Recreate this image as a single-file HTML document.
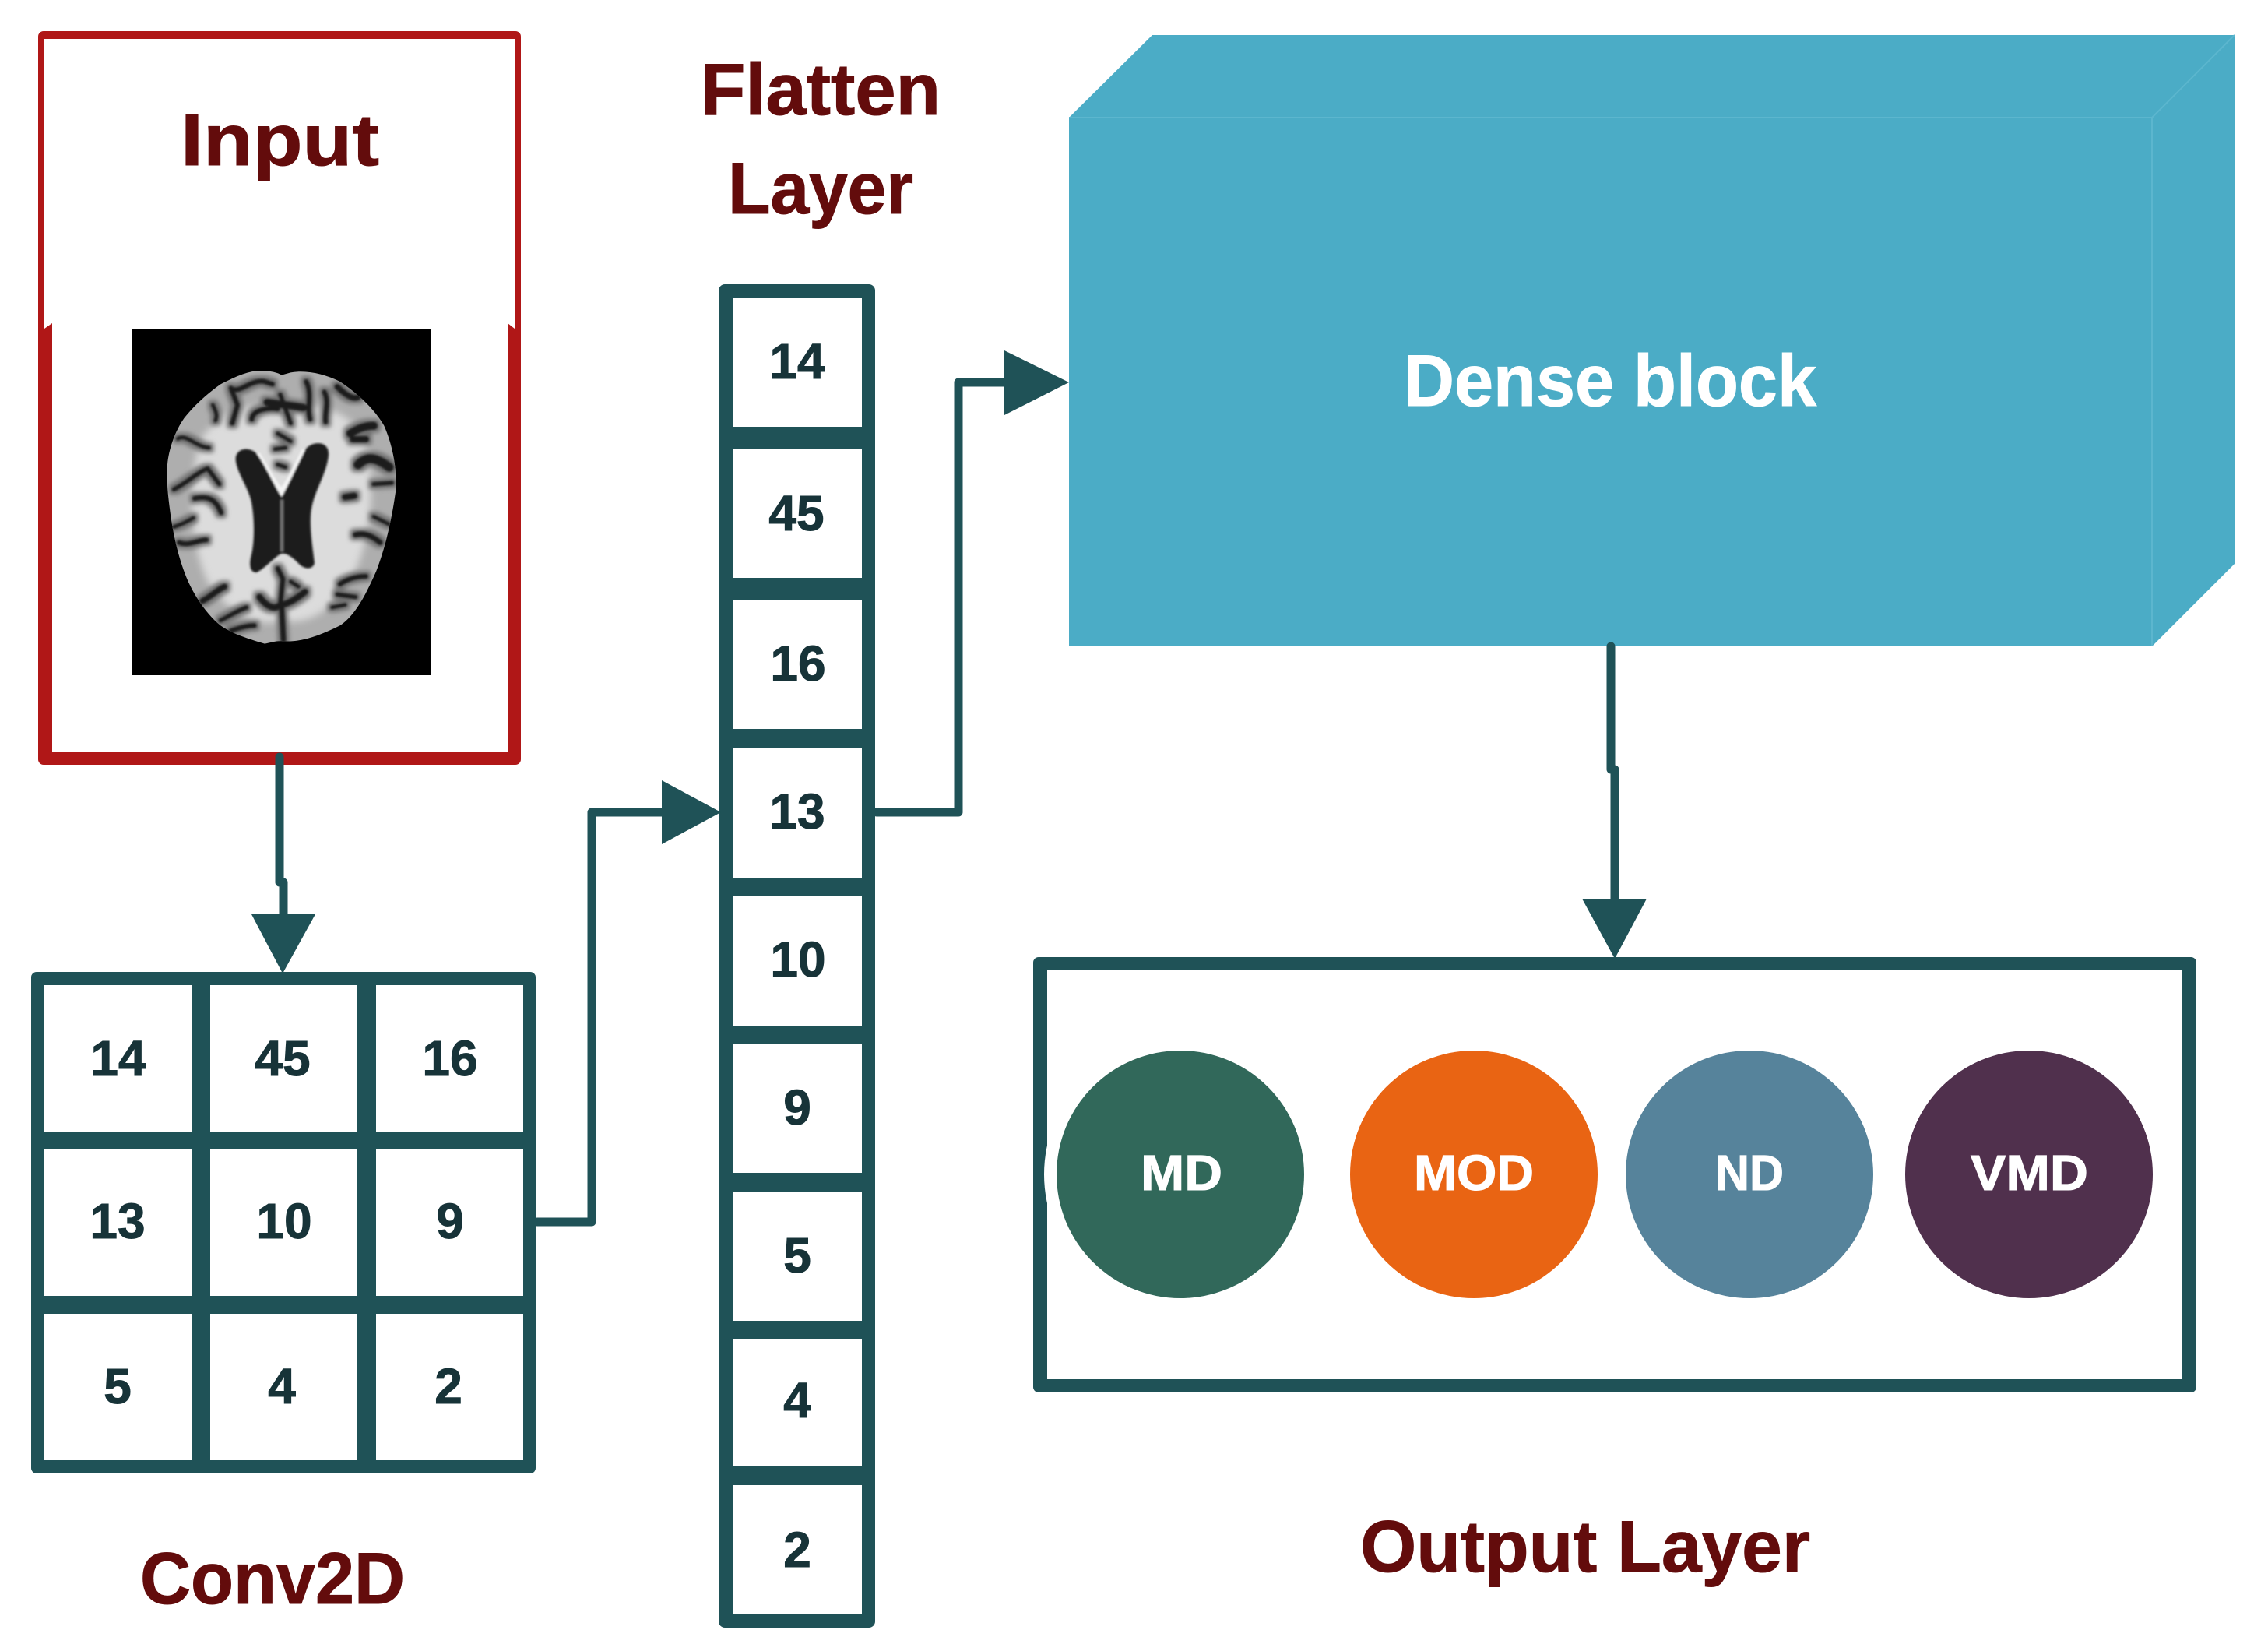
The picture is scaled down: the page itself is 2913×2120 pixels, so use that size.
<!DOCTYPE html>
<html>
<head>
<meta charset="utf-8">
<style>
html,body{margin:0;padding:0;background:#fff;}
svg{display:block;}
text{font-family:"Liberation Sans",sans-serif;font-weight:bold;}
.t{fill:#630c0c;font-size:94px;stroke:#630c0c;stroke-width:1;}
.n{fill:#173338;font-size:64px;text-anchor:middle;stroke:#173338;stroke-width:1;}
.w{fill:#fff;stroke:#fff;stroke-width:1;}
</style>
</head>
<body>
<svg xmlns="http://www.w3.org/2000/svg" width="2913" height="2120" viewBox="0 0 2913 2120">
<defs>
<filter id="b" x="-10%" y="-10%" width="120%" height="120%"><feGaussianBlur stdDeviation="4"/></filter>
<filter id="b3" x="-10%" y="-10%" width="120%" height="120%"><feMorphology operator="dilate" radius="12"/><feGaussianBlur stdDeviation="9"/></filter>
<filter id="b2" x="-10%" y="-10%" width="120%" height="120%"><feGaussianBlur stdDeviation="14"/></filter>
<clipPath id="bc"><path d="M605,215 C590,205 560,198 520,198 C470,200 420,225 370,250 C320,285 270,330 230,380 C195,430 170,500 165,560 C160,630 170,700 178,760 C190,840 210,930 245,1010 C275,1075 320,1140 370,1180 C420,1215 490,1235 540,1250 C570,1245 580,1238 610,1240 C680,1245 750,1220 830,1180 C890,1140 930,1060 970,970 C1005,880 1030,770 1045,660 C1050,580 1035,490 1000,410 C960,340 890,280 830,240 C770,210 700,195 640,205 Z"/></clipPath>
<g id="sulci">
  <path d="M420,270 C450,280 490,230 540,240 L570,250" stroke-width="18"/>
  <path d="M410,265 L435,330 415,400" stroke-width="18"/>
  <path d="M490,385 C495,345 560,340 590,345" stroke-width="18"/>
  <path d="M700,240 C725,290 700,340 715,385" stroke-width="18"/>
  <path d="M770,280 C790,320 770,360 775,395" stroke-width="18"/>
  <path d="M820,260 C850,290 880,310 900,300" stroke-width="22"/>
  <path d="M340,330 C350,350 360,370 350,390" stroke-width="14"/>
  <path d="M205,460 C240,440 270,490 325,495" stroke-width="14"/>
  <path d="M190,655 C240,630 280,590 320,575 L365,635" stroke-width="16"/>
  <path d="M270,690 C320,680 350,690 372,745" stroke-width="18"/>
  <path d="M190,800 C220,790 240,780 265,765" stroke-width="14"/>
  <path d="M210,860 C250,875 280,850 315,850" stroke-width="18"/>
  <path d="M300,1085 C330,1070 360,1040 385,1030" stroke-width="22"/>
  <path d="M370,1160 C410,1140 440,1120 470,1110" stroke-width="16"/>
  <path d="M410,1200 C440,1190 470,1180 500,1180" stroke-width="18"/>
  <path d="M960,635 L1030,630" stroke-width="16"/>
  <path d="M960,760 L1020,790" stroke-width="14"/>
  <path d="M890,830 C930,820 960,840 985,860" stroke-width="20"/>
  <path d="M830,1020 C860,1000 890,990 930,990" stroke-width="18"/>
  <path d="M820,1060 L890,1070" stroke-width="16"/>
  <path d="M800,1110 L850,1100" stroke-width="14"/>
  <path d="M640,1010 L670,1030" stroke-width="14"/>
  <path d="M550,320 L690,340" stroke-width="28"/>
  <path d="M600,290 L640,400" stroke-width="16"/>
  <path d="M590,440 L640,470 M580,500 L620,495 M590,560 L620,570" stroke-width="14"/>
  <path d="M870,440 C900,420 930,410 960,410" stroke-width="30"/>
  <path d="M880,462 L930,462" stroke-width="24"/>
  <path d="M900,560 C930,530 960,525 1020,570" stroke-width="34"/>
  <path d="M850,685 L885,680" stroke-width="24"/>
  <path d="M590,960 L610,1000 L600,1100" stroke-width="18"/>
  <path d="M520,1070 C550,1110 580,1120 600,1100 C630,1100 670,1070 695,1050" stroke-width="24"/>
  <path d="M605,1100 L612,1235" stroke-width="20"/>
</g>
</defs>
<rect width="2913" height="2120" fill="#fff"/>

<!-- Input box -->
<rect x="49" y="40" width="620" height="942" rx="7" fill="#b01717"/>
<path d="M57,50 H661 V422 L652,415 V965 H67 V415 L57,422 Z" fill="#fff"/>
<text class="t" x="232" y="212" textLength="255" lengthAdjust="spacingAndGlyphs">Input</text>

<!-- Brain image -->
<rect x="169" y="422" width="384" height="445" fill="#000"/>
<g transform="translate(160,410) scale(0.3333)">
  <g clip-path="url(#bc)">
    <rect x="140" y="180" width="930" height="1090" fill="#aeaeae"/>
    <path d="M290,470 C380,320 560,310 610,360 C700,310 870,330 930,480 C970,640 950,860 870,1010 C790,1130 700,1180 610,1160 C500,1190 400,1130 320,1010 C250,860 240,640 290,470 Z" fill="#dcdcdc" filter="url(#b2)"/>
    <use href="#sulci" fill="none" stroke="#707070" stroke-linecap="round" stroke-linejoin="round" filter="url(#b3)"/>
    <use href="#sulci" fill="none" stroke="#1a1a1a" stroke-linecap="round" stroke-linejoin="round" filter="url(#b)"/>
  </g>
  <g filter="url(#b)">
    <path d="M510,520 C540,565 570,630 605,665 C635,630 670,555 695,505" fill="none" stroke="#f4f4f4" stroke-width="24"/>
    <path d="M428,540 C428,495 485,485 515,525 C545,570 575,635 605,685 C635,630 670,555 695,505 C715,468 792,462 786,525 C778,600 725,670 718,745 C712,805 725,880 732,940 C722,968 692,962 672,942 C650,920 622,895 600,905 C580,915 540,960 510,975 C485,978 478,950 488,910 C503,850 500,760 488,700 C473,640 432,590 428,540 Z" fill="#1c1c1c"/>
    <path d="M606,695 L606,895" stroke="#6f6f6f" stroke-width="12"/>
  </g>
</g>

<!-- Conv2D grid -->
<rect x="40" y="1248" width="648" height="644" rx="7" fill="#1f5257"/>
<g fill="#fff">
  <rect x="56" y="1265" width="190" height="189"/>
  <rect x="270" y="1265" width="188" height="189"/>
  <rect x="483" y="1265" width="189" height="189"/>
  <rect x="56" y="1476" width="190" height="188"/>
  <rect x="270" y="1476" width="188" height="188"/>
  <rect x="483" y="1476" width="189" height="188"/>
  <rect x="56" y="1687" width="190" height="188"/>
  <rect x="270" y="1687" width="188" height="188"/>
  <rect x="483" y="1687" width="189" height="188"/>
</g>
<g>
  <text class="n" x="152" y="1381">14</text>
  <text class="n" x="363" y="1381">45</text>
  <text class="n" x="578" y="1381">16</text>
  <text class="n" x="151" y="1590">13</text>
  <text class="n" x="365" y="1590">10</text>
  <text class="n" x="578" y="1590">9</text>
  <text class="n" x="151" y="1802">5</text>
  <text class="n" x="362" y="1802">4</text>
  <text class="n" x="576" y="1802">2</text>
</g>
<text class="t" x="180" y="2059" textLength="340" lengthAdjust="spacingAndGlyphs">Conv2D</text>

<!-- Flatten column -->
<rect x="923" y="365" width="201" height="1725" rx="8" fill="#1f5257"/>
<g fill="#fff">
  <rect x="941" y="383" width="166" height="165"/>
  <rect x="941" y="576" width="166" height="166"/>
  <rect x="941" y="770" width="166" height="166"/>
  <rect x="941" y="961" width="166" height="166"/>
  <rect x="941" y="1150" width="166" height="167"/>
  <rect x="941" y="1340" width="166" height="166"/>
  <rect x="941" y="1530" width="166" height="166"/>
  <rect x="941" y="1719" width="166" height="164"/>
  <rect x="941" y="1907" width="166" height="166"/>
</g>
<text class="n" x="1024" y="486">14</text>
<text class="n" x="1023" y="681">45</text>
<text class="n" x="1025" y="874">16</text>
<text class="n" x="1024" y="1064">13</text>
<text class="n" x="1025" y="1254">10</text>
<text class="n" x="1024" y="1444">9</text>
<text class="n" x="1024" y="1634">5</text>
<text class="n" x="1024" y="1820">4</text>
<text class="n" x="1024" y="2012">2</text>
<text class="t" x="900" y="147" textLength="308" lengthAdjust="spacingAndGlyphs">Flatten</text>
<text class="t" x="935" y="274" textLength="238" lengthAdjust="spacingAndGlyphs">Layer</text>

<!-- Dense block -->
<path d="M1373,151 L1480,45 H2870 V724 L2764,830 H1373 Z" fill="#4bacc6"/>
<path d="M1373,151 H2764 V830 M2764,151 L2870,45" fill="none" stroke="#5cb6ce" stroke-width="2"/>
<text class="w" x="1803" y="521" font-size="94" textLength="530" lengthAdjust="spacingAndGlyphs">Dense block</text>

<!-- Output box -->
<rect x="1327" y="1229" width="1494" height="559" rx="7" fill="#1f5257"/>
<rect x="1345" y="1246" width="1458" height="525" fill="#fff"/>
<circle cx="1516" cy="1508" r="175" fill="#fff"/>
<circle cx="1516" cy="1508" r="159" fill="#31685a"/>
<circle cx="1893" cy="1508" r="159" fill="#e96413"/>
<circle cx="2247" cy="1508" r="159" fill="#56839b"/>
<circle cx="2606" cy="1508" r="159" fill="#50304d"/>
<text class="w" x="1465" y="1528" font-size="64" textLength="105" lengthAdjust="spacingAndGlyphs">MD</text>
<text class="w" x="1816" y="1528" font-size="64" textLength="154" lengthAdjust="spacingAndGlyphs">MOD</text>
<text class="w" x="2203" y="1528" font-size="64" textLength="88" lengthAdjust="spacingAndGlyphs">ND</text>
<text class="w" x="2531" y="1528" font-size="64" textLength="151" lengthAdjust="spacingAndGlyphs">VMD</text>
<text class="t" x="1747" y="2018" textLength="578" lengthAdjust="spacingAndGlyphs">Output Layer</text>

<!-- Connectors -->
<g fill="none" stroke="#1f5257" stroke-width="11" stroke-linejoin="round" stroke-linecap="round">
  <path d="M359,972 V1133 H364 V1176"/>
  <path d="M690,1569 H760 V1043 H852"/>
  <path d="M1126,1043 H1231 V491 H1292"/>
  <path d="M2069,830 V988 H2074 V1156"/>
</g>
<g fill="#1f5257">
  <path d="M323,1174 H405 L363,1250 Z"/>
  <path d="M850,1002 L926,1043 850,1084 Z"/>
  <path d="M1290,450 L1373,491 1290,533 Z"/>
  <path d="M2032,1154 H2115 L2074,1231 Z"/>
</g>
</svg>
</body>
</html>
